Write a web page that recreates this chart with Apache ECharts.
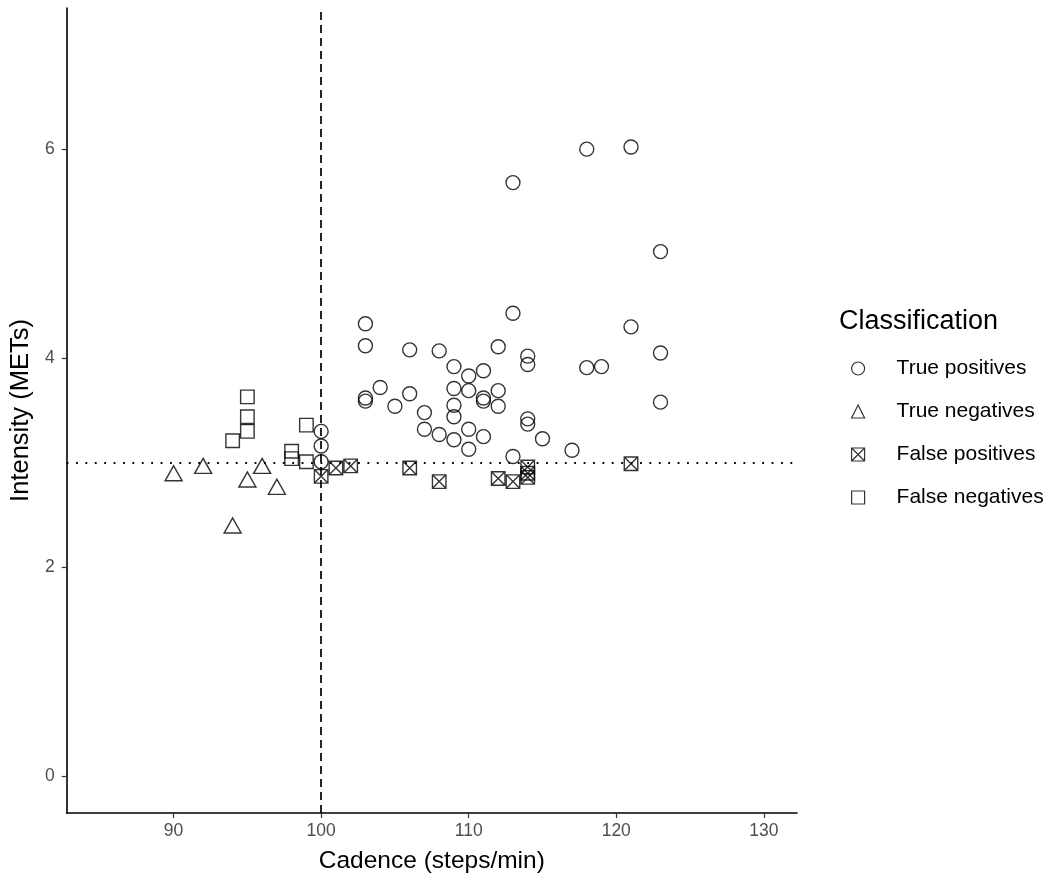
<!DOCTYPE html>
<html>
<head>
<meta charset="utf-8">
<script src="https://cdn.jsdelivr.net/npm/echarts@6/dist/echarts.min.js"></script>
<style>html,body{margin:0;padding:0;background:#fff;}#c{width:1050px;height:886px;}</style>
</head>
<body>
<div id="c"></div>
<script>
const xTicks = [90, 100, 110, 120, 130];
const yTicks = [0, 2, 4, 6];
const seriesNames = ['True positives', 'True negatives', 'False positives', 'False negatives'];
const truePositives = [
  [100,3.30],[100,3.16],[100,3.01],
  [103,4.33],[103,4.12],[103,3.62],[103,3.59],
  [104,3.72],[105,3.54],
  [106,4.08],[106,3.66],
  [107,3.48],[107,3.32],
  [108,4.07],[108,3.27],
  [109,3.92],[109,3.71],[109,3.55],[109,3.44],[109,3.22],
  [110,3.83],[110,3.69],[110,3.32],[110,3.13],
  [111,3.88],[111,3.62],[111,3.59],[111,3.25],
  [112,4.11],[112,3.69],[112,3.54],
  [113,5.68],[113,4.43],[113,3.06],
  [114,4.02],[114,3.94],[114,3.42],[114,3.37],
  [115,3.23],[117,3.12],
  [118,6.00],[118,3.91],[119,3.92],
  [121,6.02],[121,4.30],
  [123,5.02],[123,4.05],[123,3.58]
];
const trueNegatives = [[90,2.90],[92,2.97],[94,2.40],[95,2.84],[96,2.97],[97,2.77]];
const falsePositives = [[100,2.87],[101,2.95],[102,2.97],[106,2.95],[108,2.82],[112,2.85],[113,2.82],[114,2.96],[114,2.90],[114,2.86],[121,2.99]];
const falseNegatives = [[94,3.21],[95,3.63],[95,3.44],[95,3.30],[98,3.11],[98,3.04],[99,3.36],[99,3.01]];
const cadenceCut = 100;
const intensityCut = 3;

const FONT = 'Liberation Sans, Arial, sans-serif';
const crossSquare = 'path://M0 0H10V10H0Z M0 0L10 10 M10 0L0 10';
const hollow = {color: 'rgba(0,0,0,0)', borderColor: '#000', borderWidth: 1.4};

const chart = echarts.init(document.getElementById('c'), null, {renderer: 'canvas'});
chart.setOption({
  animation: false,
  backgroundColor: '#fff',
  title: {
    text: 'Classification', left: 834, top: 303,
    textStyle: {fontFamily: FONT, fontSize: 27, fontWeight: 'normal', color: '#000'}
  },
  legend: {
    orient: 'vertical', left: 846, top: 353,
    itemWidth: 13, itemHeight: 13, itemGap: 22,
    symbolKeepAspect: true,
    data: seriesNames,
    itemStyle: {borderWidth: 1.2},
    textStyle: {fontFamily: FONT, fontSize: 21, color: '#000', padding: [0, 0, 0, 27]},
    selectedMode: false
  },
  grid: {left: 66, top: 8, width: 731, height: 805, containLabel: false},
  xAxis: {
    type: 'value', min: 82.75, max: 132.25,
    name: 'Cadence (steps/min)', nameLocation: 'middle', nameGap: 36,
    nameTextStyle: {fontFamily: FONT, fontSize: 24.5, color: '#000'},
    axisLine: {show: true, onZero: false, lineStyle: {color: '#000', width: 1.6}},
    axisTick: {show: true, length: 5, lineStyle: {color: '#333', width: 1.2}, customValues: xTicks},
    axisLabel: {fontFamily: FONT, fontSize: 17.5, color: '#4d4d4d', margin: 9, customValues: xTicks},
    splitLine: {show: false}
  },
  yAxis: {
    type: 'value', min: -0.35, max: 7.35,
    name: 'Intensity (METs)', nameLocation: 'middle', nameGap: 32, nameRotate: 90,
    nameTextStyle: {fontFamily: FONT, fontSize: 25.5, color: '#000'},
    axisLine: {show: true, onZero: false, lineStyle: {color: '#000', width: 1.6}},
    axisTick: {show: true, length: 5, lineStyle: {color: '#333', width: 1.2}, customValues: yTicks},
    axisLabel: {fontFamily: FONT, fontSize: 17.5, color: '#4d4d4d', margin: 12, customValues: yTicks},
    splitLine: {show: false}
  },
  series: [
    {
      name: seriesNames[0], type: 'scatter', data: truePositives,
      symbol: 'circle', symbolSize: 14, itemStyle: hollow, silent: true,
      markLine: {
        silent: true, symbol: ['none', 'none'], label: {show: false},
        data: [
          {xAxis: cadenceCut, lineStyle: {type: [8, 5], color: '#000', width: 1.7}},
          {yAxis: intensityCut, lineStyle: {type: [1.8, 7.6], color: '#000', width: 1.9}}
        ]
      }
    },
    {name: seriesNames[1], type: 'scatter', data: trueNegatives, symbol: 'triangle', symbolSize: [17, 15], itemStyle: hollow, silent: true},
    {name: seriesNames[2], type: 'scatter', data: falsePositives, symbol: crossSquare, symbolSize: 13.5, itemStyle: hollow, silent: true},
    {name: seriesNames[3], type: 'scatter', data: falseNegatives, symbol: 'rect', symbolSize: 13.5, itemStyle: hollow, silent: true}
  ]
});
</script>
</body>
</html>
